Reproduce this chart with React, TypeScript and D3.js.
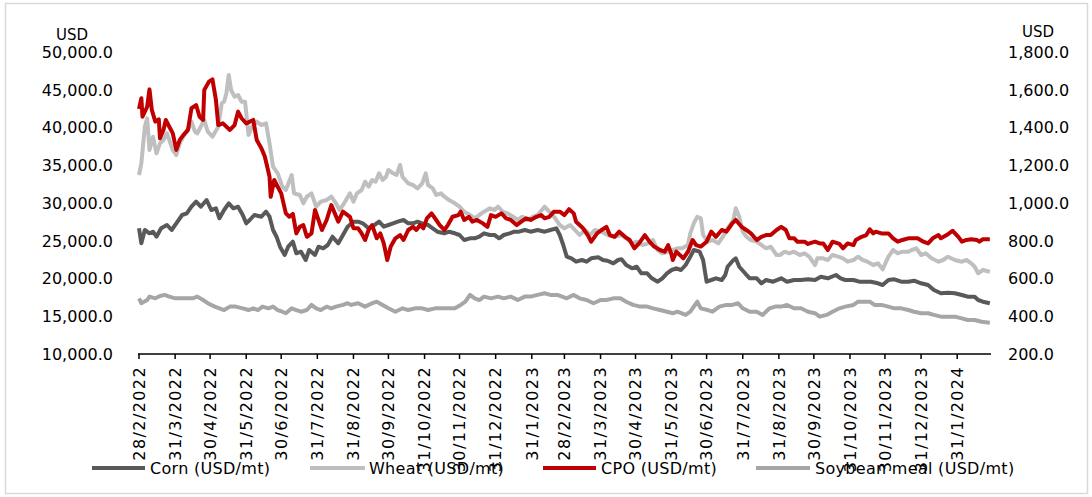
import React from "react";
import * as d3 from "d3";

type Pt = [string, number];

const corn: Pt[] = [["2022-02-28",26649],["2022-03-02",24662],["2022-03-05",26424],["2022-03-09",25987],["2022-03-12",26199],["2022-03-15",25536],["2022-03-19",26649],["2022-03-24",27086],["2022-03-28",26424],["2022-04-01",27311],["2022-04-06",28411],["2022-04-10",28636],["2022-04-14",29510],["2022-04-18",30172],["2022-04-22",29510],["2022-04-27",30397],["2022-05-01",29073],["2022-05-05",29298],["2022-05-08",27973],["2022-05-12",29073],["2022-05-16",29960],["2022-05-20",29298],["2022-05-24",29510],["2022-05-28",28411],["2022-05-31",27311],["2022-06-03",27748],["2022-06-07",28411],["2022-06-13",28185],["2022-06-17",28848],["2022-06-20",28185],["2022-06-23",26424],["2022-06-26",25536],["2022-06-29",24212],["2022-07-03",23113],["2022-07-06",24212],["2022-07-10",24874],["2022-07-13",23338],["2022-07-17",23550],["2022-07-21",22450],["2022-07-24",23775],["2022-07-29",23113],["2022-08-01",24212],["2022-08-05",24000],["2022-08-09",24437],["2022-08-13",25536],["2022-08-18",24662],["2022-08-22",25762],["2022-08-26",26861],["2022-08-31",27523],["2022-09-04",27523],["2022-09-08",27311],["2022-09-13",26649],["2022-09-18",27086],["2022-09-22",27523],["2022-09-26",26861],["2022-09-30",27086],["2022-10-04",27311],["2022-10-08",27523],["2022-10-13",27748],["2022-10-17",27311],["2022-10-21",27311],["2022-10-25",27523],["2022-10-29",27311],["2022-11-03",27086],["2022-11-07",26649],["2022-11-11",26199],["2022-11-17",25987],["2022-11-21",26199],["2022-11-26",25987],["2022-11-30",25762],["2022-12-04",25099],["2022-12-09",25324],["2022-12-13",25324],["2022-12-17",25536],["2022-12-21",25987],["2022-12-26",25762],["2022-12-30",25762],["2023-01-03",25324],["2023-01-07",25762],["2023-01-12",25987],["2023-01-16",26199],["2023-01-20",26199],["2023-01-25",26424],["2023-01-30",26199],["2023-02-05",26424],["2023-02-11",26199],["2023-02-16",26424],["2023-02-21",26649],["2023-02-24",25762],["2023-02-27",24437],["2023-03-02",22888],["2023-03-06",22675],["2023-03-10",22225],["2023-03-15",22450],["2023-03-19",22225],["2023-03-23",22675],["2023-03-29",22808],["2023-04-02",22450],["2023-04-06",22357],["2023-04-11",22013],["2023-04-15",22450],["2023-04-18",22543],["2023-04-22",21788],["2023-04-27",21351],["2023-05-01",21563],["2023-05-05",20689],["2023-05-10",20689],["2023-05-14",20027],["2023-05-19",19576],["2023-05-23",20027],["2023-05-27",20689],["2023-05-31",21126],["2023-06-04",21351],["2023-06-08",21126],["2023-06-12",21788],["2023-06-16",22888],["2023-06-19",23775],["2023-06-24",23550],["2023-06-27",22450],["2023-06-30",19576],["2023-07-04",19801],["2023-07-08",20027],["2023-07-13",19801],["2023-07-16",20464],["2023-07-18",21563],["2023-07-23",22450],["2023-07-25",22675],["2023-07-28",21563],["2023-08-02",20689],["2023-08-06",20027],["2023-08-12",20027],["2023-08-16",19364],["2023-08-20",19801],["2023-08-26",19576],["2023-09-02",20027],["2023-09-07",19576],["2023-09-13",19801],["2023-09-19",19801],["2023-09-25",19894],["2023-10-01",19801],["2023-10-06",20239],["2023-10-12",20027],["2023-10-19",20464],["2023-10-23",20027],["2023-10-27",19801],["2023-11-03",19801],["2023-11-08",19576],["2023-11-14",19576],["2023-11-18",19576],["2023-11-24",19364],["2023-11-28",19139],["2023-12-03",19801],["2023-12-08",19894],["2023-12-14",19576],["2023-12-20",19576],["2023-12-25",19709],["2023-12-31",19364],["2024-01-06",19139],["2024-01-11",18477],["2024-01-17",18040],["2024-01-23",18119],["2024-01-29",18040],["2024-02-04",17815],["2024-02-09",17589],["2024-02-15",17589],["2024-02-18",17152],["2024-02-22",16927],["2024-02-28",16715]];

const wheat: Pt[] = [["2022-02-28",33709],["2022-03-02",35258],["2022-03-05",40106],["2022-03-07",41218],["2022-03-08",39232],["2022-03-09",37020],["2022-03-12",38782],["2022-03-15",36583],["2022-03-18",37907],["2022-03-21",38344],["2022-03-24",39232],["2022-03-26",38344],["2022-03-29",37020],["2022-04-01",36358],["2022-04-04",37907],["2022-04-07",38782],["2022-04-11",39669],["2022-04-14",40768],["2022-04-17",39444],["2022-04-19",39232],["2022-04-22",40106],["2022-04-25",40993],["2022-04-28",39444],["2022-05-02",38782],["2022-05-07",40106],["2022-05-10",43205],["2022-05-12",43417],["2022-05-14",44530],["2022-05-16",46954],["2022-05-18",44967],["2022-05-21",44079],["2022-05-24",44305],["2022-05-27",43417],["2022-05-30",43417],["2022-06-02",39007],["2022-06-05",40106],["2022-06-09",40768],["2022-06-13",40331],["2022-06-17",40556],["2022-06-20",37907],["2022-06-23",34808],["2022-06-27",33934],["2022-07-01",32159],["2022-07-04",31722],["2022-07-09",33709],["2022-07-11",31285],["2022-07-16",31060],["2022-07-19",29960],["2022-07-22",30834],["2022-07-26",31285],["2022-07-30",29510],["2022-08-03",30172],["2022-08-08",30397],["2022-08-12",30834],["2022-08-16",29960],["2022-08-19",29073],["2022-08-23",29960],["2022-08-28",31285],["2022-08-31",30172],["2022-09-03",31285],["2022-09-07",31722],["2022-09-10",32821],["2022-09-13",32159],["2022-09-16",33046],["2022-09-19",32821],["2022-09-22",33934],["2022-09-25",33046],["2022-09-28",33483],["2022-09-30",34371],["2022-10-04",33934],["2022-10-07",33709],["2022-10-10",35033],["2022-10-12",33483],["2022-10-17",32609],["2022-10-21",32384],["2022-10-25",31947],["2022-10-29",32609],["2022-11-01",33934],["2022-11-03",32384],["2022-11-07",31947],["2022-11-10",31060],["2022-11-14",31285],["2022-11-17",30834],["2022-11-21",30397],["2022-11-26",29960],["2022-11-30",29510],["2022-12-04",28848],["2022-12-09",28411],["2022-12-13",27973],["2022-12-17",28411],["2022-12-21",28848],["2022-12-26",29298],["2022-12-30",29073],["2023-01-02",29510],["2023-01-06",28848],["2023-01-10",28636],["2023-01-15",28185],["2023-01-19",27748],["2023-01-23",28185],["2023-01-27",27748],["2023-02-01",28185],["2023-02-05",28411],["2023-02-11",29510],["2023-02-15",28848],["2023-02-19",28185],["2023-02-24",27086],["2023-02-28",26649],["2023-03-05",27086],["2023-03-09",26424],["2023-03-13",25762],["2023-03-18",26424],["2023-03-22",25762],["2023-03-26",26424],["2023-04-01",26199],["2023-04-06",25762],["2023-04-12",25536],["2023-04-18",25762],["2023-04-22",25324],["2023-04-27",24662],["2023-05-01",24874],["2023-05-06",24437],["2023-05-11",24662],["2023-05-15",25099],["2023-05-19",23775],["2023-05-23",23338],["2023-05-28",23550],["2023-06-01",23775],["2023-06-05",24000],["2023-06-09",24000],["2023-06-14",24437],["2023-06-16",25987],["2023-06-19",27311],["2023-06-22",28185],["2023-06-25",27973],["2023-06-27",25762],["2023-07-01",24874],["2023-07-05",25099],["2023-07-10",24662],["2023-07-14",25536],["2023-07-18",26649],["2023-07-23",27748],["2023-07-25",29298],["2023-07-28",28185],["2023-07-31",26199],["2023-08-03",25536],["2023-08-07",25099],["2023-08-12",24874],["2023-08-16",24437],["2023-08-20",24000],["2023-08-24",24212],["2023-08-29",23113],["2023-09-01",23113],["2023-09-05",23550],["2023-09-09",23338],["2023-09-13",23550],["2023-09-18",23113],["2023-09-22",23338],["2023-09-26",22888],["2023-10-01",21788],["2023-10-03",22675],["2023-10-08",22675],["2023-10-12",22450],["2023-10-16",23113],["2023-10-21",22888],["2023-10-25",22675],["2023-10-29",22225],["2023-11-03",22450],["2023-11-07",22888],["2023-11-11",22450],["2023-11-15",22225],["2023-11-20",21788],["2023-11-24",22013],["2023-11-28",21219],["2023-12-03",22888],["2023-12-07",23775],["2023-12-11",23338],["2023-12-15",23550],["2023-12-20",23550],["2023-12-23",23775],["2023-12-27",24000],["2023-12-31",23113],["2024-01-04",23338],["2024-01-09",22675],["2024-01-15",22225],["2024-01-19",22450],["2024-01-23",22888],["2024-01-29",22450],["2024-02-04",22225],["2024-02-08",22450],["2024-02-12",22013],["2024-02-15",21563],["2024-02-18",20689],["2024-02-22",21126],["2024-02-28",20901]];

const cpo: Pt[] = [["2022-02-28",1498],["2022-03-02",1555],["2022-03-03",1457],["2022-03-07",1510],["2022-03-09",1602],["2022-03-11",1493],["2022-03-14",1431],["2022-03-17",1443],["2022-03-18",1343],["2022-03-21",1387],["2022-03-23",1440],["2022-03-26",1404],["2022-03-29",1369],["2022-04-01",1281],["2022-04-04",1334],["2022-04-07",1360],["2022-04-11",1387],["2022-04-14",1502],["2022-04-18",1519],["2022-04-21",1457],["2022-04-24",1440],["2022-04-25",1599],["2022-04-29",1643],["2022-05-02",1655],["2022-05-05",1546],["2022-05-07",1413],["2022-05-11",1422],["2022-05-17",1387],["2022-05-21",1413],["2022-05-24",1484],["2022-05-27",1449],["2022-05-31",1422],["2022-06-06",1440],["2022-06-09",1334],["2022-06-13",1290],["2022-06-16",1245],["2022-06-20",1139],["2022-06-21",1033],["2022-06-24",1122],["2022-06-27",1086],["2022-06-30",1051],["2022-07-04",945],["2022-07-07",927],["2022-07-10",942],["2022-07-13",839],["2022-07-16",874],["2022-07-19",883],["2022-07-22",821],["2022-07-26",839],["2022-07-29",963],["2022-08-01",910],["2022-08-04",857],["2022-08-08",910],["2022-08-12",989],["2022-08-15",945],["2022-08-18",901],["2022-08-22",954],["2022-08-26",936],["2022-08-28",927],["2022-08-31",866],["2022-09-04",866],["2022-09-07",839],["2022-09-10",804],["2022-09-13",857],["2022-09-16",883],["2022-09-20",813],["2022-09-23",839],["2022-09-26",786],["2022-09-29",698],["2022-10-02",769],["2022-10-06",813],["2022-10-10",830],["2022-10-13",804],["2022-10-17",857],["2022-10-21",874],["2022-10-24",857],["2022-10-27",883],["2022-10-30",866],["2022-11-02",919],["2022-11-06",945],["2022-11-10",910],["2022-11-13",883],["2022-11-17",857],["2022-11-20",883],["2022-11-24",927],["2022-11-29",936],["2022-12-01",954],["2022-12-04",910],["2022-12-08",927],["2022-12-11",901],["2022-12-15",910],["2022-12-20",892],["2022-12-24",874],["2022-12-27",936],["2022-12-31",927],["2023-01-05",945],["2023-01-09",919],["2023-01-13",910],["2023-01-18",883],["2023-01-22",901],["2023-01-26",919],["2023-01-30",910],["2023-02-04",927],["2023-02-08",936],["2023-02-11",919],["2023-02-15",927],["2023-02-19",954],["2023-02-24",954],["2023-02-28",936],["2023-03-04",967],["2023-03-08",945],["2023-03-10",901],["2023-03-16",866],["2023-03-20",830],["2023-03-23",795],["2023-03-28",839],["2023-04-01",857],["2023-04-05",874],["2023-04-08",830],["2023-04-12",821],["2023-04-16",848],["2023-04-21",821],["2023-04-25",804],["2023-04-29",760],["2023-05-03",786],["2023-05-08",830],["2023-05-12",795],["2023-05-16",769],["2023-05-21",751],["2023-05-25",742],["2023-05-28",777],["2023-05-31",725],["2023-06-01",698],["2023-06-04",742],["2023-06-07",725],["2023-06-10",707],["2023-06-14",742],["2023-06-18",804],["2023-06-21",777],["2023-06-25",769],["2023-06-30",795],["2023-07-04",848],["2023-07-08",821],["2023-07-13",857],["2023-07-17",848],["2023-07-20",874],["2023-07-22",892],["2023-07-25",910],["2023-07-30",874],["2023-08-03",857],["2023-08-07",839],["2023-08-12",804],["2023-08-16",821],["2023-08-20",830],["2023-08-24",830],["2023-08-29",857],["2023-09-02",874],["2023-09-06",857],["2023-09-09",813],["2023-09-13",813],["2023-09-16",795],["2023-09-22",795],["2023-09-25",783],["2023-10-01",795],["2023-10-05",786],["2023-10-08",786],["2023-10-12",751],["2023-10-16",795],["2023-10-22",783],["2023-10-25",760],["2023-10-29",786],["2023-11-03",777],["2023-11-05",804],["2023-11-10",821],["2023-11-14",830],["2023-11-17",861],["2023-11-20",839],["2023-11-22",848],["2023-11-27",839],["2023-12-03",839],["2023-12-07",813],["2023-12-11",795],["2023-12-15",804],["2023-12-20",813],["2023-12-28",813],["2024-01-02",795],["2024-01-06",786],["2024-01-10",813],["2024-01-15",830],["2024-01-17",813],["2024-01-22",830],["2024-01-27",853],["2024-02-01",821],["2024-02-04",795],["2024-02-08",804],["2024-02-12",808],["2024-02-17",804],["2024-02-19",795],["2024-02-22",808],["2024-02-28",808]];

const soybeanMeal: Pt[] = [["2022-02-28",495],["2022-03-02",469],["2022-03-07",486],["2022-03-09",504],["2022-03-14",495],["2022-03-18",507],["2022-03-22",513],["2022-03-26",504],["2022-03-31",495],["2022-04-04",495],["2022-04-10",495],["2022-04-15",495],["2022-04-19",504],["2022-04-24",486],["2022-04-28",469],["2022-05-04",451],["2022-05-08",442],["2022-05-12",433],["2022-05-17",451],["2022-05-22",451],["2022-05-28",442],["2022-06-02",433],["2022-06-06",442],["2022-06-10",433],["2022-06-14",451],["2022-06-19",442],["2022-06-23",451],["2022-06-27",433],["2022-07-01",424],["2022-07-04",416],["2022-07-09",442],["2022-07-13",433],["2022-07-17",424],["2022-07-22",433],["2022-07-26",460],["2022-07-30",442],["2022-08-03",433],["2022-08-08",451],["2022-08-12",442],["2022-08-16",451],["2022-08-22",460],["2022-08-26",469],["2022-08-29",460],["2022-09-04",469],["2022-09-10",451],["2022-09-16",469],["2022-09-20",477],["2022-09-25",460],["2022-09-30",442],["2022-10-06",424],["2022-10-12",442],["2022-10-17",433],["2022-10-23",442],["2022-10-29",442],["2022-11-03",433],["2022-11-09",442],["2022-11-20",442],["2022-11-26",442],["2022-12-01",460],["2022-12-05",477],["2022-12-09",513],["2022-12-13",495],["2022-12-17",486],["2022-12-21",504],["2022-12-27",495],["2023-01-02",504],["2023-01-07",495],["2023-01-13",504],["2023-01-19",486],["2023-01-25",504],["2023-01-30",504],["2023-02-05",513],["2023-02-11",522],["2023-02-16",513],["2023-02-22",513],["2023-03-02",495],["2023-03-08",513],["2023-03-13",495],["2023-03-19",486],["2023-03-25",469],["2023-03-31",486],["2023-04-05",486],["2023-04-11",495],["2023-04-17",495],["2023-04-22",477],["2023-04-28",460],["2023-05-04",451],["2023-05-10",451],["2023-05-15",442],["2023-05-21",433],["2023-05-27",424],["2023-06-01",416],["2023-06-05",424],["2023-06-12",407],["2023-06-16",424],["2023-06-19",451],["2023-06-22",477],["2023-06-25",442],["2023-07-01",433],["2023-07-05",424],["2023-07-11",451],["2023-07-17",460],["2023-07-22",460],["2023-07-27",469],["2023-07-31",442],["2023-08-06",424],["2023-08-12",424],["2023-08-17",407],["2023-08-23",442],["2023-08-28",451],["2023-09-02",451],["2023-09-07",460],["2023-09-13",442],["2023-09-19",442],["2023-09-25",424],["2023-10-01",416],["2023-10-05",398],["2023-10-11",407],["2023-10-16",424],["2023-10-22",442],["2023-10-27",451],["2023-11-03",460],["2023-11-07",477],["2023-11-13",477],["2023-11-17",477],["2023-11-21",460],["2023-11-27",460],["2023-12-03",451],["2023-12-08",442],["2023-12-14",442],["2023-12-20",433],["2023-12-25",424],["2023-12-31",416],["2024-01-06",416],["2024-01-11",407],["2024-01-17",398],["2024-01-23",398],["2024-01-29",398],["2024-02-04",389],["2024-02-09",380],["2024-02-15",380],["2024-02-21",371],["2024-02-28",366]];

const xTickLabels = ["28/2/2022","31/3/2022","30/4/2022","31/5/2022","30/6/2022","31/7/2022","31/8/2022","30/9/2022","31/10/2022","30/11/2022","31/12/2022","31/1/2023","28/2/2023","31/3/2023","30/4/2023","31/5/2023","30/6/2023","31/7/2023","31/8/2023","30/9/2023","31/10/2023","30/11/2023","31/12/2023","31/1/2024"];
const leftTicks = [10000, 15000, 20000, 25000, 30000, 35000, 40000, 45000, 50000];
const rightTicks = [200, 400, 600, 800, 1000, 1200, 1400, 1600, 1800];
const seriesNames = ["Corn (USD/mt)", "Wheat (USD/mt)", "CPO (USD/mt)", "Soybean meal (USD/mt)"];
const xDomain = ["2022-02-28", "2024-02-29"];

const FONT = "'DejaVu Sans', Verdana, sans-serif";

export default function App() {
  const parse = d3.timeParse("%Y-%m-%d");
  const parseTick = d3.timeParse("%d/%m/%Y");
  const x = d3.scaleTime().domain([parse(xDomain[0])!, parse(xDomain[1])!]).range([139, 991]);
  const yL = d3.scaleLinear().domain([10000, 50000]).range([354, 52]);
  const yR = d3.scaleLinear().domain([200, 1800]).range([354, 52]);
  const fmt = d3.format(",.1f");

  const mk = (data: Pt[], y: d3.ScaleLinear<number, number>) =>
    d3.line<Pt>().x((d) => x(parse(d[0])!)).y((d) => y(d[1]))(data) || "";

  const series = [
    { name: seriesNames[0], path: mk(corn, yL), color: "#595959" },
    { name: seriesNames[1], path: mk(wheat, yL), color: "#bfbfbf" },
    { name: seriesNames[2], path: mk(cpo, yR), color: "#c00000" },
    { name: seriesNames[3], path: mk(soybeanMeal, yR), color: "#a6a6a6" },
  ];

  const legendPos = [
    { x0: 92, x1: 145, tx: 150 },
    { x0: 310, x1: 365, tx: 369 },
    { x0: 543, x1: 596, tx: 601 },
    { x0: 756, x1: 810, tx: 815 },
  ];
  const axisY = yL(10000);

  return (
    <svg width={1092} height={497} style={{ position: "absolute", left: 0, top: 0, background: "#fff" }} fontFamily={FONT}>
      <rect x={0} y={0} width={1092} height={497} fill="#fff" />
      <rect x={5.5} y={3.5} width={1082} height={490} fill="none" stroke="#d9d9d9" strokeWidth={1.5} />
      <text x={72} y={40} fontSize={15} textAnchor="middle" fill="#000">USD</text>
      <text x={1038} y={37} fontSize={15} textAnchor="middle" fill="#000">USD</text>
      {leftTicks.map((t) => (
        <text key={"l" + t} x={113} y={yL(t)} dy="0.36em" fontSize={16} textAnchor="end" fill="#000">{fmt(t)}</text>
      ))}
      {rightTicks.map((t) => (
        <text key={"r" + t} x={1008} y={yR(t)} dy="0.36em" fontSize={16} textAnchor="start" fill="#000">{fmt(t)}</text>
      ))}
      {series.map((s) => (
        <path key={s.name} d={s.path} fill="none" stroke={s.color} strokeWidth={4} strokeLinejoin="round" strokeLinecap="butt" />
      ))}
      <line x1={138} x2={991} y1={axisY} y2={axisY} stroke="#000" strokeWidth={1.6} />
      {xTickLabels.map((lab) => {
        const tx = x(parseTick(lab)!);
        return (
          <g key={lab}>
            <line x1={tx} x2={tx} y1={axisY} y2={axisY + 5} stroke="#000" strokeWidth={1.5} />
            <text transform={`translate(${tx},${axisY + 12}) rotate(-90)`} dy="0.36em" fontSize={16} textAnchor="end" letterSpacing={1.4} fill="#000">{lab}</text>
          </g>
        );
      })}
      {series.map((s, i) => (
        <g key={"lg" + i}>
          <line x1={legendPos[i].x0} x2={legendPos[i].x1} y1={468} y2={468} stroke={s.color} strokeWidth={4} />
          <text x={legendPos[i].tx} y={468} dy="0.36em" fontSize={16} letterSpacing={0.3} fill="#000">{s.name}</text>
        </g>
      ))}
    </svg>
  );
}
